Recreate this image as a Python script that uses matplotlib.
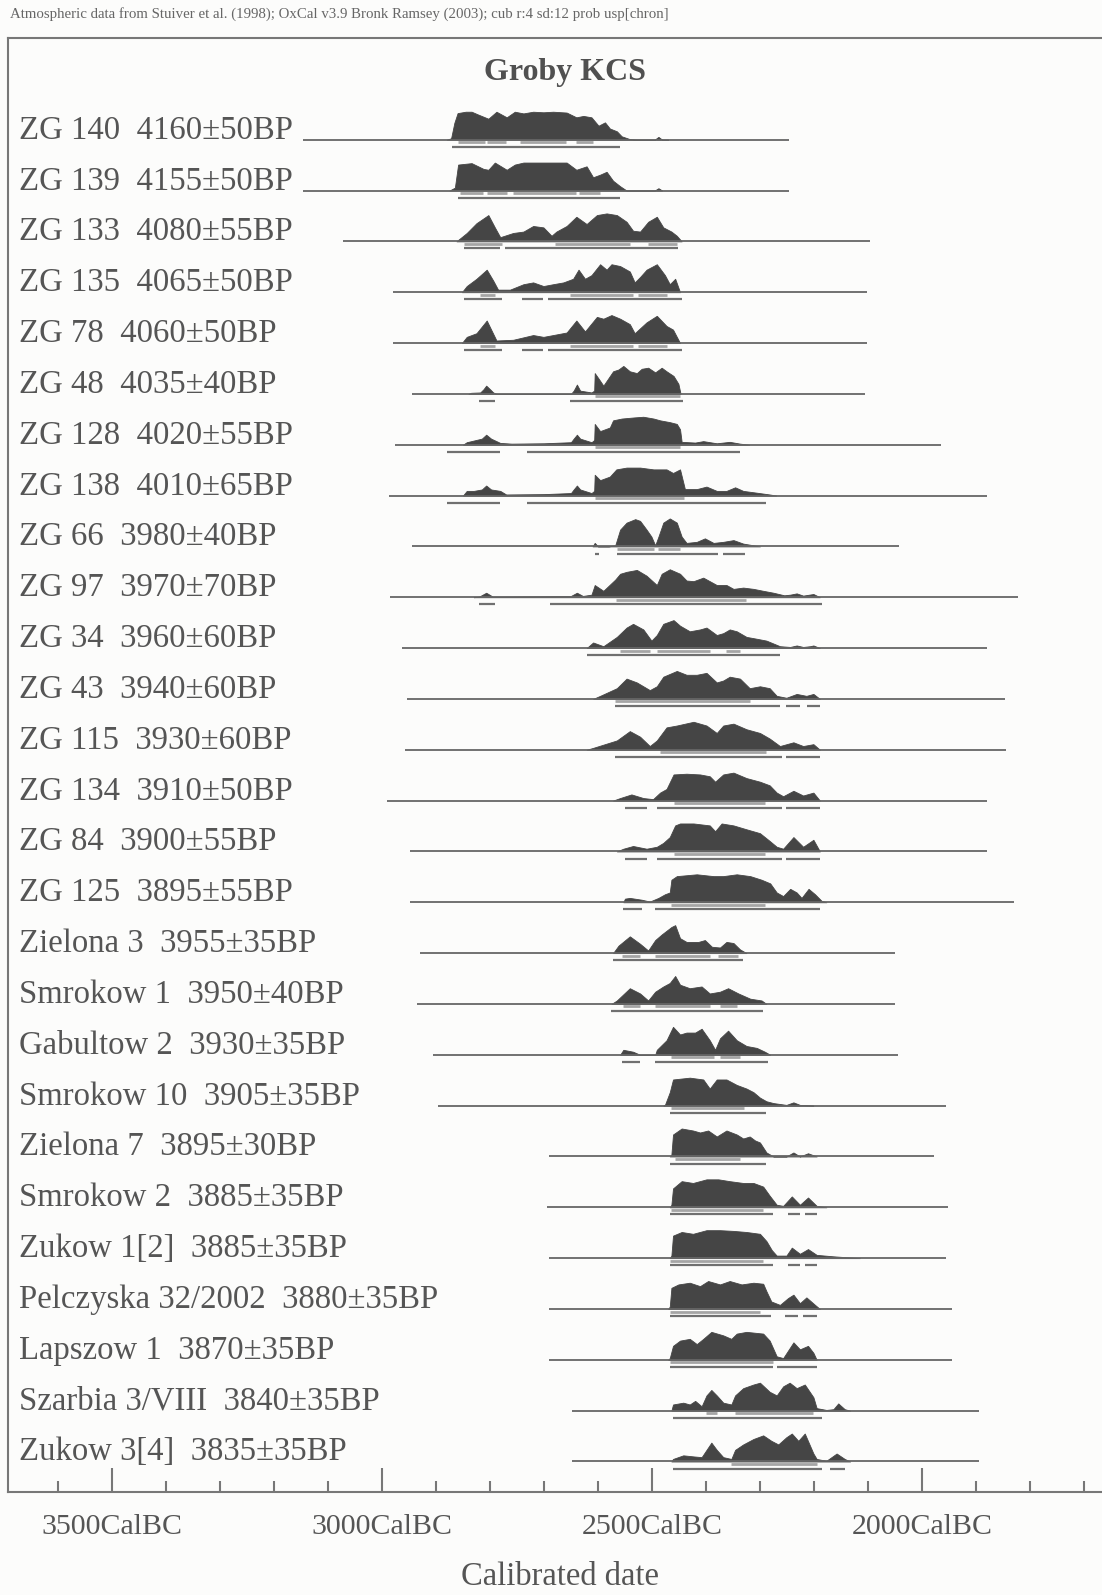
import numpy as np
import matplotlib.pyplot as plt

plt.rcParams["font.family"] = ["Liberation Serif", "DejaVu Serif"]

# sample labels (top to bottom)
labels = [
    "ZG 140  4160±50BP", "ZG 139  4155±50BP", "ZG 133  4080±55BP",
    "ZG 135  4065±50BP", "ZG 78  4060±50BP", "ZG 48  4035±40BP",
    "ZG 128  4020±55BP", "ZG 138  4010±65BP", "ZG 66  3980±40BP",
    "ZG 97  3970±70BP", "ZG 34  3960±60BP", "ZG 43  3940±60BP",
    "ZG 115  3930±60BP", "ZG 134  3910±50BP", "ZG 84  3900±55BP",
    "ZG 125  3895±55BP", "Zielona 3  3955±35BP", "Smrokow 1  3950±40BP",
    "Gabultow 2  3930±35BP", "Smrokow 10  3905±35BP", "Zielona 7  3895±30BP",
    "Smrokow 2  3885±35BP", "Zukow 1[2]  3885±35BP",
    "Pelczyska 32/2002  3880±35BP", "Lapszow 1  3870±35BP",
    "Szarbia 3/VIII  3840±35BP", "Zukow 3[4]  3835±35BP",
]

# extent of the thin base line of each row (years BC)
line_start = [3146, 3146, 3072, 2980, 2980, 2944, 2976, 2987, 2944, 2986,
              2963, 2954, 2958, 2991, 2948, 2948, 2929, 2935, 2906, 2897,
              2690, 2694, 2690, 2690, 2690, 2648, 2648]
line_end = [2247, 2247, 2096, 2102, 2102, 2106, 1965, 1880, 2043, 1823,
            1880, 1847, 1845, 1880, 1880, 1829, 2049, 2049, 2045, 1955,
            1978, 1951, 1955, 1945, 1945, 1895, 1895]

# calibrated probability curves: years BC and relative probability
yr_zg140 = [2880, 2872, 2866, 2860, 2845, 2834, 2822, 2803, 2788, 2769, 2754, 2738, 2720, 2701, 2683,
            2658, 2640, 2627, 2612, 2599, 2587, 2578, 2565, 2556, 2541, 2530, 2495, 2488, 2481, 2470]
p_zg140 = [0, 5, 60, 95, 100, 100, 90, 75, 100, 80, 100, 94, 100, 98, 100,
           97, 80, 85, 80, 50, 62, 40, 30, 12, 2, 0, 0, 10, 0, 0]

yr_zg139 = [2875, 2865, 2859, 2834, 2812, 2803, 2791, 2769, 2754, 2738, 2720, 2695, 2658,
            2640, 2621, 2609, 2596, 2584, 2572, 2559, 2547, 2520, 2495, 2488, 2481]
p_zg139 = [0, 10, 90, 95, 75, 72, 97, 72, 90, 97, 97, 97, 97,
           72, 84, 46, 55, 65, 34, 15, 0, 0, 0, 8, 0]

yr_zg133 = [2862, 2859, 2843, 2825, 2803, 2791, 2781, 2757, 2738, 2720, 2701, 2686, 2677, 2658,
            2640, 2621, 2602, 2584, 2565, 2547, 2535, 2522, 2507, 2491, 2479, 2464, 2454, 2445]
p_zg133 = [0, 5, 30, 65, 94, 50, 15, 30, 35, 55, 50, 20, 35, 55,
           88, 62, 94, 100, 94, 70, 38, 35, 70, 88, 50, 35, 20, 0]

yr_zg135 = [2852, 2843, 2825, 2806, 2794, 2785, 2763, 2738, 2720, 2701, 2683, 2664, 2646, 2636, 2624,
            2612, 2596, 2584, 2575, 2559, 2541, 2532, 2522, 2510, 2491, 2476, 2467, 2457, 2448]
p_zg135 = [0, 17, 37, 62, 32, 7, 7, 22, 27, 17, 22, 27, 37, 62, 37,
           47, 77, 62, 77, 72, 57, 27, 42, 62, 77, 47, 22, 37, 0]

yr_zg78 = [2852, 2843, 2825, 2806, 2788, 2757, 2720, 2701, 2683, 2658, 2640, 2624,
           2602, 2590, 2575, 2559, 2541, 2532, 2510, 2491, 2473, 2461, 2448]
p_zg78 = [0, 17, 27, 62, 7, 9, 22, 17, 22, 29, 62, 32,
          72, 67, 77, 67, 52, 27, 57, 75, 47, 37, 0]

yr_zg48 = [2840, 2835, 2818, 2812, 2807, 2800, 2794, 2788, 2700, 2650, 2645, 2639, 2633, 2612, 2607, 2606,
           2599, 2590, 2581, 2572, 2562, 2553, 2541, 2528, 2519, 2507, 2494, 2482, 2473, 2460, 2451, 2447]
p_zg48 = [0, 3, 4, 13, 23, 13, 4, 0, 0, 0, 9, 26, 9, 4, 9, 58,
          43, 23, 43, 63, 68, 78, 63, 58, 70, 73, 60, 73, 63, 50, 28, 0]

yr_zg128 = [2850, 2843, 2815, 2807, 2798, 2781, 2760, 2700, 2650, 2645, 2639, 2633, 2612, 2607, 2606, 2596, 2587,
            2578, 2572, 2556, 2534, 2516, 2497, 2485, 2467, 2454, 2448, 2445, 2420, 2405, 2380, 2356, 2337, 2320]
p_zg128 = [0, 7, 17, 28, 17, 5, 3, 4, 7, 17, 28, 17, 7, 13, 58, 38, 43,
           48, 68, 73, 76, 78, 73, 68, 63, 58, 43, 8, 6, 10, 4, 8, 3, 0]

yr_zg138 = [2850, 2843, 2830, 2815, 2807, 2798, 2781, 2770, 2700, 2650, 2645, 2639, 2633, 2612, 2607, 2606, 2596, 2587,
            2578, 2566, 2547, 2522, 2497, 2473, 2461, 2448, 2439, 2417, 2399, 2380, 2362, 2346, 2331, 2306, 2282, 2270]
p_zg138 = [0, 13, 13, 17, 28, 17, 13, 3, 4, 7, 17, 28, 17, 7, 13, 58, 43, 48,
           53, 73, 78, 78, 73, 73, 63, 73, 18, 18, 25, 13, 13, 23, 13, 8, 3, 0]

yr_zg66 = [2610, 2606, 2600, 2580, 2568, 2559, 2547, 2531, 2522, 2510, 2501, 2494, 2488,
           2479, 2467, 2454, 2445, 2436, 2417, 2402, 2386, 2368, 2349, 2331, 2300]
p_zg66 = [0, 10, 0, 0, 3, 48, 68, 78, 73, 48, 28, 3, 28,
          68, 80, 68, 28, 10, 13, 23, 10, 13, 18, 8, 0]

yr_zg97 = [2830, 2820, 2807, 2795, 2780, 2700, 2650, 2639, 2628, 2612, 2606, 2590, 2568, 2559, 2547, 2528, 2510, 2491, 2482,
           2467, 2448, 2436, 2423, 2405, 2393, 2380, 2362, 2349, 2331, 2312, 2294, 2275, 2255, 2244, 2232, 2220, 2201, 2189]
p_zg97 = [0, 2, 14, 2, 2, 3, 4, 14, 4, 8, 38, 20, 55, 73, 79, 85, 67, 38, 73,
          87, 73, 52, 50, 61, 50, 38, 38, 26, 30, 26, 20, 14, 6, 8, 12, 5, 10, 0]

yr_zg34 = [2621, 2609, 2590, 2565, 2547, 2535, 2516, 2501, 2491, 2479, 2460, 2448, 2430, 2411, 2399,
           2380, 2368, 2356, 2343, 2325, 2306, 2288, 2263, 2244, 2232, 2220, 2207, 2201, 2189]
p_zg34 = [0, 15, 5, 30, 55, 65, 50, 20, 35, 65, 75, 60, 45, 50, 55,
          35, 40, 50, 45, 30, 25, 20, 5, 3, 7, 3, 5, 7, 0]

yr_zg43 = [2609, 2596, 2565, 2547, 2528, 2504, 2491, 2479, 2454, 2436, 2417, 2399, 2380,
           2368, 2356, 2337, 2319, 2300, 2282, 2269, 2251, 2232, 2214, 2201, 2189]
p_zg43 = [0, 8, 28, 53, 43, 23, 33, 58, 73, 63, 63, 68, 43,
          48, 58, 53, 28, 33, 28, 8, 3, 13, 8, 13, 0]

yr_zg115 = [2621, 2609, 2565, 2541, 2522, 2504, 2491, 2473, 2454, 2423, 2399,
            2380, 2368, 2349, 2325, 2300, 2282, 2263, 2238, 2220, 2201, 2189]
p_zg115 = [0, 5, 25, 50, 35, 10, 25, 60, 65, 75, 65,
           45, 65, 70, 55, 45, 30, 10, 20, 10, 15, 0]

yr_zg134 = [2572, 2559, 2538, 2516, 2498, 2485, 2473, 2460, 2436, 2411, 2393, 2383,
            2368, 2349, 2325, 2300, 2282, 2269, 2257, 2238, 2220, 2201, 2189]
p_zg134 = [0, 7, 17, 7, 4, 22, 32, 72, 74, 72, 67, 52,
           72, 77, 62, 52, 42, 22, 12, 27, 14, 22, 0]

yr_zg84 = [2565, 2553, 2535, 2510, 2491, 2479, 2467, 2457, 2448, 2423, 2393, 2383,
           2371, 2349, 2325, 2300, 2282, 2269, 2257, 2238, 2220, 2201, 2189]
p_zg84 = [0, 7, 14, 7, 12, 22, 37, 67, 72, 72, 67, 52,
          72, 67, 57, 47, 27, 12, 7, 37, 12, 30, 0]

yr_zg125 = [2553, 2550, 2541, 2519, 2504, 2488, 2476, 2467, 2464, 2454, 2417, 2386, 2368,
            2343, 2318, 2297, 2281, 2269, 2257, 2244, 2232, 2223, 2210, 2198, 2186, 2177]
p_zg125 = [0, 10, 12, 7, 2, 12, 22, 27, 62, 72, 77, 72, 72,
           77, 72, 62, 52, 27, 17, 37, 27, 12, 37, 22, 4, 0]

yr_zielona3 = [2572, 2562, 2541, 2522, 2507, 2494, 2482, 2464, 2457, 2448,
               2436, 2414, 2402, 2389, 2374, 2362, 2349, 2337, 2325]
p_zielona3 = [0, 20, 45, 25, 7, 35, 50, 70, 75, 40,
              30, 30, 35, 17, 15, 30, 27, 10, 0]

yr_smrokow1 = [2575, 2565, 2541, 2522, 2507, 2494, 2479, 2467, 2457, 2448,
               2430, 2408, 2393, 2374, 2359, 2340, 2318, 2297, 2288]
p_smrokow1 = [0, 10, 45, 30, 10, 35, 50, 60, 80, 55,
              45, 50, 30, 35, 45, 30, 15, 10, 0]

yr_gabultow2 = [2559, 2553, 2535, 2522, 2494, 2491, 2473, 2461, 2448, 2436, 2420,
                2408, 2393, 2383, 2374, 2359, 2343, 2325, 2306, 2291, 2281]
p_gabultow2 = [0, 13, 8, 0, 0, 13, 38, 73, 53, 58, 58,
               68, 38, 13, 43, 63, 38, 23, 18, 8, 0]

yr_smrokow10 = [2479, 2476, 2467, 2461, 2430, 2405, 2393, 2380, 2362, 2343,
                2325, 2312, 2300, 2288, 2275, 2251, 2238, 2226, 2201]
p_smrokow10 = [0, 2, 37, 72, 77, 72, 47, 72, 72, 57,
               47, 37, 22, 12, 7, 2, 9, 2, 0]

yr_zielona7 = [2467, 2464, 2461, 2445, 2424, 2411, 2396, 2380, 2362, 2343, 2331,
               2319, 2309, 2300, 2288, 2275, 2251, 2238, 2226, 2211, 2195]
p_zielona7 = [0, 5, 55, 70, 65, 60, 65, 50, 65, 55, 45,
              50, 40, 35, 10, 0, 0, 10, 0, 8, 0]

yr_smrokow2 = [2467, 2464, 2461, 2445, 2424, 2399, 2377, 2356, 2331, 2312,
               2294, 2282, 2269, 2257, 2241, 2226, 2211, 2195, 2177]
p_smrokow2 = [0, 7, 52, 72, 67, 77, 77, 72, 67, 67,
              57, 32, 7, 4, 30, 7, 27, 4, 0]

yr_zukow1 = [2467, 2464, 2461, 2445, 2424, 2399, 2374, 2349, 2325, 2300,
             2288, 2278, 2269, 2251, 2241, 2226, 2211, 2195, 2164, 2115]
p_zukow1 = [0, 7, 62, 72, 67, 77, 77, 75, 72, 67,
            47, 22, 7, 7, 29, 12, 25, 9, 5, 0]

yr_pelczyska = [2470, 2467, 2464, 2451, 2430, 2411, 2396, 2374, 2356, 2334, 2312,
                2294, 2288, 2279, 2263, 2248, 2238, 2226, 2214, 2198, 2189]
p_pelczyska = [0, 7, 62, 72, 77, 67, 82, 72, 82, 72, 77,
               74, 52, 22, 12, 32, 42, 17, 34, 12, 0]

yr_lapszow1 = [2470, 2467, 2461, 2448, 2430, 2417, 2405, 2390, 2368, 2353, 2343,
               2325, 2294, 2282, 2269, 2257, 2238, 2226, 2211, 2201, 2195]
p_lapszow1 = [0, 5, 40, 55, 60, 45, 60, 80, 70, 60, 75,
              80, 75, 55, 10, 5, 50, 30, 40, 20, 0]

yr_szarbia = [2464, 2461, 2442, 2430, 2420, 2408, 2399, 2390, 2380, 2368, 2353, 2346, 2331, 2312,
              2300, 2282, 2269, 2257, 2245, 2232, 2217, 2201, 2195, 2177, 2164, 2155, 2143, 2133]
p_szarbia = [0, 17, 22, 17, 27, 12, 42, 57, 42, 22, 17, 42, 62, 72,
             77, 52, 42, 67, 77, 62, 72, 37, 7, 2, 4, 20, 4, 0]

yr_zukow3 = [2464, 2461, 2442, 2423, 2408, 2399, 2390, 2380, 2368, 2353, 2346, 2331, 2312,
             2294, 2279, 2266, 2251, 2241, 2229, 2217, 2201, 2195, 2177, 2158, 2143, 2133]
p_zukow3 = [0, 7, 17, 14, 12, 32, 52, 32, 12, 7, 32, 47, 62,
            72, 57, 47, 67, 77, 57, 77, 22, 7, 2, 22, 7, 0]

# 68.2% and 95.4% highest probability ranges (years BC)
range68 = [
    [(2860, 2810), (2805, 2770), (2745, 2660), (2640, 2610)],
    [(2855, 2812), (2806, 2769), (2757, 2640), (2636, 2596)],
    [(2849, 2778), (2680, 2541), (2507, 2454)],
    [(2818, 2791), (2652, 2535), (2525, 2473)],
    [(2818, 2791), (2652, 2535), (2525, 2473)],
    [(2606, 2448)],
    [(2606, 2448)],
    [(2606, 2440)],
    [(2565, 2497), (2488, 2448)],
    [(2566, 2325)],
    [(2559, 2504), (2491, 2393), (2362, 2337)],
    [(2568, 2318)],
    [(2485, 2288)],
    [(2460, 2291)],
    [(2460, 2291)],
    [(2464, 2291)],
    [(2556, 2522), (2494, 2393), (2377, 2340)],
    [(2553, 2522), (2494, 2393), (2374, 2343)],
    [(2464, 2386), (2374, 2337)],
    [(2464, 2330)],
    [(2457, 2337)],
    [(2464, 2294)],
    [(2467, 2294)],
    [(2467, 2300)],
    [(2467, 2275)],
    [(2399, 2380), (2346, 2201)],
    [(2353, 2195)],
]
range95 = [
    [(2870, 2560)],
    [(2859, 2559)],
    [(2849, 2781), (2772, 2451)],
    [(2849, 2778), (2741, 2701), (2692, 2445)],
    [(2849, 2778), (2741, 2701), (2692, 2445)],
    [(2821, 2791), (2652, 2442)],
    [(2880, 2781), (2732, 2337)],
    [(2880, 2781), (2732, 2288)],
    [(2606, 2598), (2565, 2377), (2368, 2328)],
    [(2821, 2791), (2689, 2186)],
    [(2621, 2263)],
    [(2568, 2263), (2251, 2226), (2213, 2189)],
    [(2568, 2260), (2251, 2189)],
    [(2550, 2510), (2491, 2260), (2251, 2189)],
    [(2550, 2510), (2491, 2260), (2251, 2189)],
    [(2553, 2519), (2494, 2189)],
    [(2572, 2331)],
    [(2575, 2294)],
    [(2556, 2522), (2494, 2285)],
    [(2467, 2288)],
    [(2467, 2288)],
    [(2467, 2275), (2248, 2226), (2217, 2195)],
    [(2467, 2275), (2248, 2226), (2217, 2195)],
    [(2467, 2279), (2254, 2229), (2220, 2195)],
    [(2467, 2275), (2269, 2195)],
    [(2461, 2186)],
    [(2461, 2186), (2170, 2143)],
]

major_years = [3500, 3000, 2500, 2000]
minor_years = [y for y in range(3600, 1600, -100) if y not in major_years]

curves = [
    (yr_zg140, p_zg140), (yr_zg139, p_zg139), (yr_zg133, p_zg133),
    (yr_zg135, p_zg135), (yr_zg78, p_zg78), (yr_zg48, p_zg48),
    (yr_zg128, p_zg128), (yr_zg138, p_zg138), (yr_zg66, p_zg66),
    (yr_zg97, p_zg97), (yr_zg34, p_zg34), (yr_zg43, p_zg43),
    (yr_zg115, p_zg115), (yr_zg134, p_zg134), (yr_zg84, p_zg84),
    (yr_zg125, p_zg125), (yr_zielona3, p_zielona3), (yr_smrokow1, p_smrokow1),
    (yr_gabultow2, p_gabultow2), (yr_smrokow10, p_smrokow10),
    (yr_zielona7, p_zielona7), (yr_smrokow2, p_smrokow2),
    (yr_zukow1, p_zukow1), (yr_pelczyska, p_pelczyska),
    (yr_lapszow1, p_lapszow1), (yr_szarbia, p_szarbia), (yr_zukow3, p_zukow3),
]

INK = "#454545"
TEXT = "#555555"
FRAME = "#777777"

W, H = 1102, 1595
fig = plt.figure(figsize=(W / 100, H / 100), dpi=100)
fig.patch.set_facecolor("#fcfcfb")

# frame runs off the right edge of the page like the scan
ax = fig.add_axes([8 / W, 1 - 1492 / H, 1104 / W, 1454 / H])
ax.set_facecolor("none")
ax.set_xlim(-3692.6, -1648)
ax.set_ylim(26.6, -2.0)

peak = 0.55  # height of a full peak, in rows
off68 = 0.05
off95 = 0.14

for i, (yr, p) in enumerate(curves):
    x = -np.array(yr, dtype=float)
    h = np.array(p, dtype=float)
    h = h / h.max() * peak

    ax.plot([-line_start[i], -line_end[i]], [i, i], color="#666666", lw=1.3,
            solid_capstyle="butt")
    ax.fill_between(x, i, i - h, color=INK, lw=0.6, edgecolor=INK)

    for a, b in range68[i]:
        ax.plot([-a, -b], [i + off68, i + off68], color="#a5a5a5", lw=2.0,
                solid_capstyle="butt")
    for a, b in range95[i]:
        ax.plot([-a, -b], [i + off95, i + off95], color="#707070", lw=1.6,
                solid_capstyle="butt")

    ax.text(-3672, i - 0.02, labels[i], fontsize=23.6, color=TEXT,
            ha="left", va="baseline")

ax.text(0.5045, 0.9766, "Groby KCS", transform=ax.transAxes, fontsize=23,
        fontweight="bold", color="#505050", ha="center", va="center")

ax.set_xticks([-y for y in major_years])
ax.set_xticklabels([f"{y}CalBC" for y in major_years])
ax.set_xticks([-y for y in minor_years], minor=True)
ax.set_yticks([])
ax.tick_params(axis="x", which="major", direction="in", length=17, width=1.5,
               color=FRAME, labelcolor=TEXT, labelsize=21.5, pad=16)
ax.tick_params(axis="x", which="minor", direction="in", length=8, width=1.5,
               color=FRAME)
ax.set_xlabel("Calibrated date", fontsize=23.5, color=TEXT, labelpad=15)

for side in ["left", "top", "bottom"]:
    ax.spines[side].set_color(FRAME)
    ax.spines[side].set_linewidth(1.5)
ax.spines["right"].set_visible(False)

fig.text(10 / W, 1 - 14 / H,
         "Atmospheric data from Stuiver et al. (1998); OxCal v3.9 Bronk Ramsey (2003); "
         "cub r:4 sd:12 prob usp[chron]",
         fontsize=10.7, color="#666666", ha="left", va="center")

fig.savefig("out.png", dpi=100, facecolor=fig.get_facecolor())
